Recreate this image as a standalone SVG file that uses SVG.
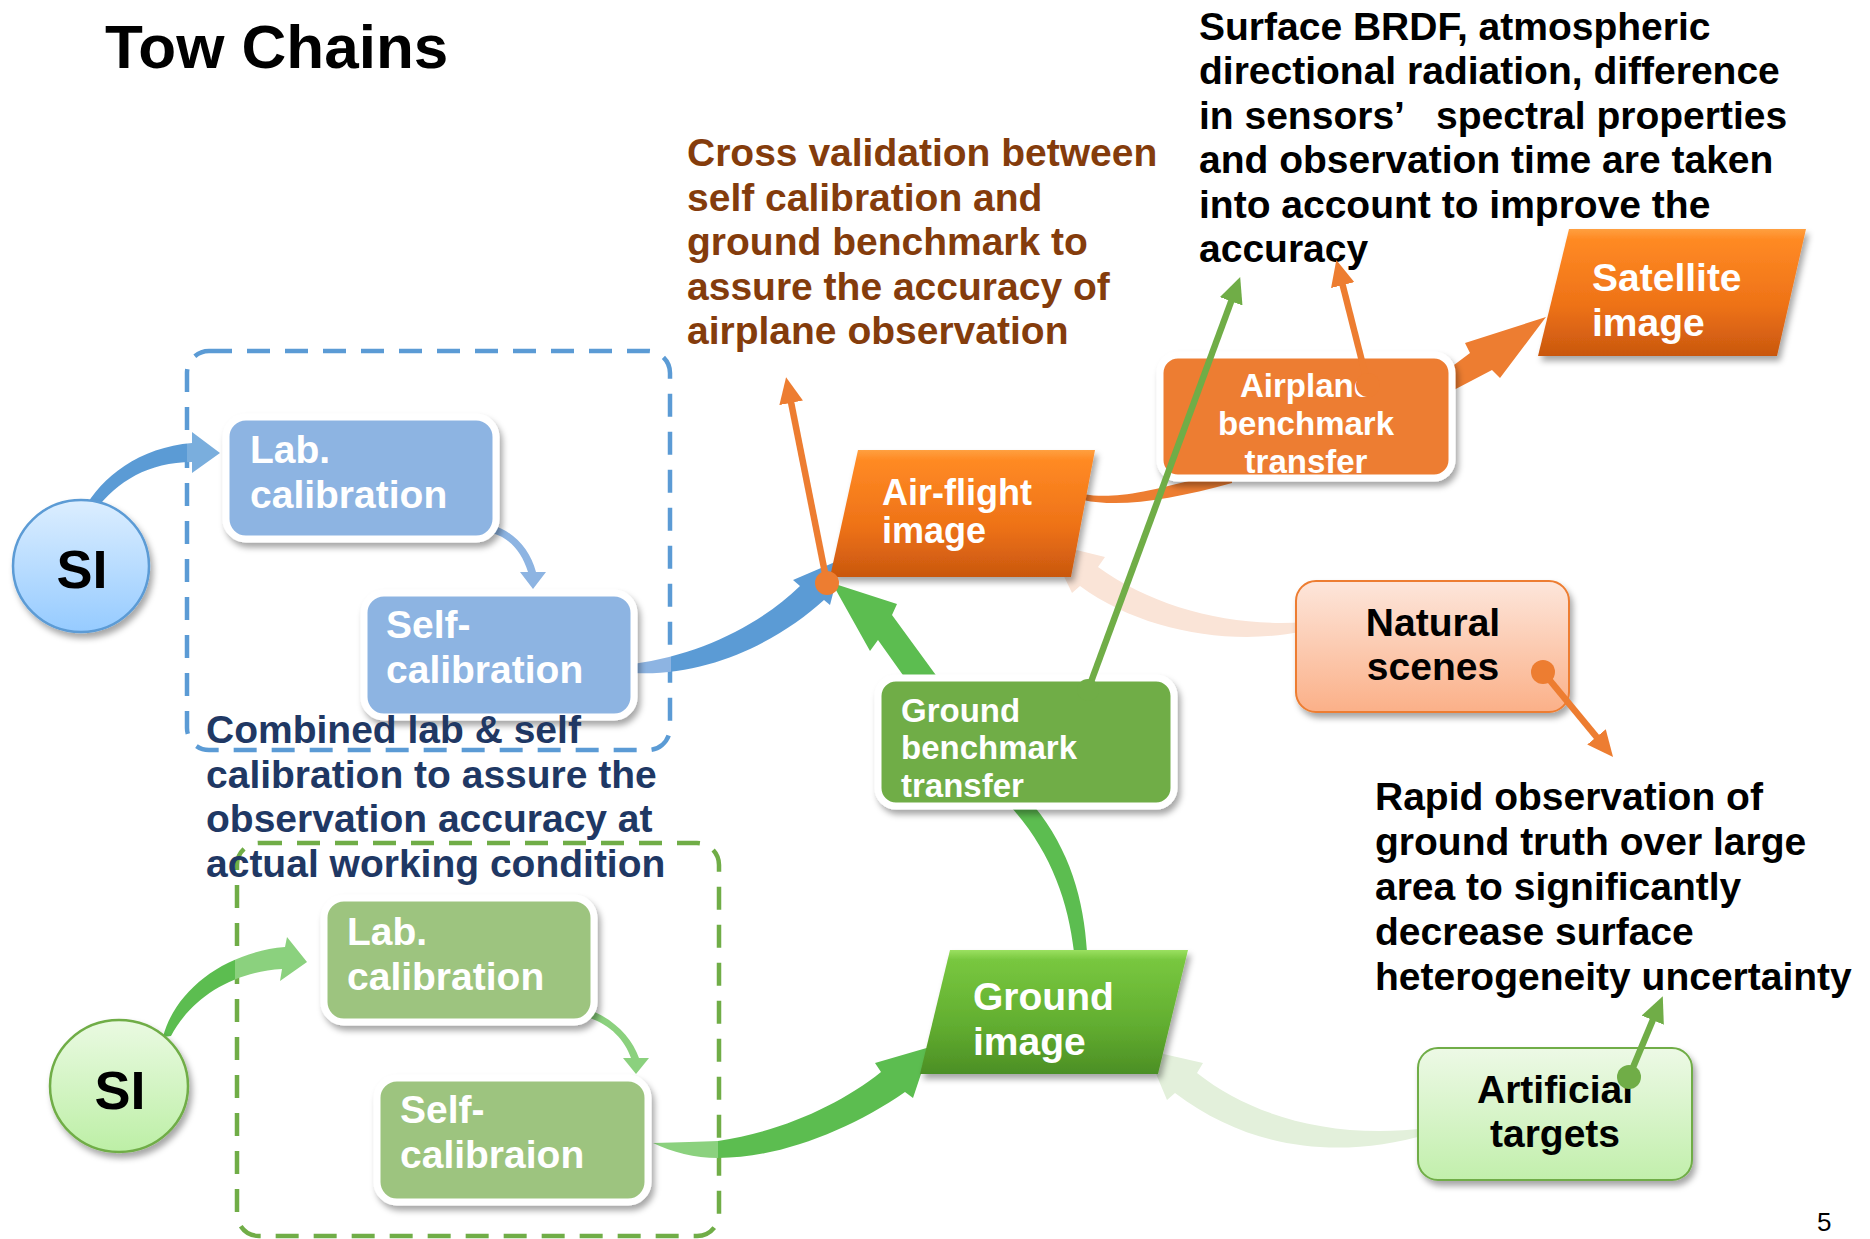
<svg xmlns="http://www.w3.org/2000/svg" width="1870" height="1239" viewBox="0 0 1870 1239">
<defs>
<style>
text{font-family:"Liberation Sans",Arial,sans-serif;font-weight:bold}
.big{font-size:39px}
.wt{fill:#ffffff}
.bk{fill:#000000}
.box{stroke:#ffffff;stroke-width:7}
.dash{fill:none;stroke-width:4.5;stroke-dasharray:23 15}
</style>
<filter id="sh" x="-20%" y="-20%" width="140%" height="150%">
<feDropShadow dx="3" dy="5" stdDeviation="3" flood-color="#000" flood-opacity="0.35"/>
</filter>
<linearGradient id="gOr" x1="0" y1="0" x2="0" y2="1">
<stop offset="0" stop-color="#FFA040"/>
<stop offset="0.08" stop-color="#FF8A24"/>
<stop offset="0.6" stop-color="#EE7217"/>
<stop offset="1" stop-color="#C9570F"/>
</linearGradient>
<linearGradient id="gGr" x1="0" y1="0" x2="0" y2="1">
<stop offset="0" stop-color="#9BE060"/>
<stop offset="0.08" stop-color="#78C73F"/>
<stop offset="0.6" stop-color="#62AE30"/>
<stop offset="1" stop-color="#4C8F25"/>
</linearGradient>
<linearGradient id="gSIb" x1="0" y1="0" x2="0" y2="1">
<stop offset="0" stop-color="#DCEEFF"/>
<stop offset="1" stop-color="#96CBFF"/>
</linearGradient>
<linearGradient id="gSIg" x1="0" y1="0" x2="0" y2="1">
<stop offset="0" stop-color="#EAFAE2"/>
<stop offset="1" stop-color="#BDEFA6"/>
</linearGradient>
<linearGradient id="gNat" x1="0" y1="0" x2="0" y2="1">
<stop offset="0" stop-color="#FDE6DB"/>
<stop offset="1" stop-color="#FBB088"/>
</linearGradient>
<linearGradient id="gArt" x1="0" y1="0" x2="0" y2="1">
<stop offset="0" stop-color="#EDF9E6"/>
<stop offset="1" stop-color="#C2EFAC"/>
</linearGradient>
<linearGradient id="gBlueArr" gradientUnits="userSpaceOnUse" x1="633" y1="0" x2="842" y2="0">
<stop offset="0.18" stop-color="#8DB4E2"/>
<stop offset="0.18" stop-color="#5B9BD5"/>
</linearGradient>
<linearGradient id="gGreenArr" gradientUnits="userSpaceOnUse" x1="653" y1="0" x2="930" y2="0">
<stop offset="0.235" stop-color="#8BD17E"/>
<stop offset="0.235" stop-color="#5CBD50"/>
</linearGradient>
<linearGradient id="gSIgArr" gradientUnits="userSpaceOnUse" x1="163" y1="0" x2="307" y2="0">
<stop offset="0.5" stop-color="#5CBD50"/>
<stop offset="0.5" stop-color="#8BD17E"/>
</linearGradient>
<linearGradient id="gSIbArr" gradientUnits="userSpaceOnUse" x1="77" y1="0" x2="220" y2="0">
<stop offset="0.77" stop-color="#5B9BD5"/>
<stop offset="0.77" stop-color="#7AAEDD"/>
</linearGradient>
<marker id="ahO" viewBox="0 -12 26 24" refX="11" refY="0" markerWidth="26" markerHeight="24" markerUnits="userSpaceOnUse" orient="auto">
<path d="M0,-12 L26,0 L0,12 Z" fill="#ED7D31"/>
</marker>
<marker id="ahG" viewBox="0 -12 26 24" refX="11" refY="0" markerWidth="26" markerHeight="24" markerUnits="userSpaceOnUse" orient="auto">
<path d="M0,-12 L26,0 L0,12 Z" fill="#70AD47"/>
</marker>
</defs>

<rect x="0" y="0" width="1870" height="1239" fill="#ffffff"/>

<g id="title"><text x="105" y="68" style="font-size:62px" class="bk">Tow Chains</text></g>

<g id="note-cross">
<text x="687" y="166" fill="#843C0C" class="big">Cross validation between</text>
<text x="687" y="210.5" fill="#843C0C" class="big">self calibration and</text>
<text x="687" y="255" fill="#843C0C" class="big">ground benchmark to</text>
<text x="687" y="299.5" fill="#843C0C" class="big">assure the accuracy of</text>
<text x="687" y="344" fill="#843C0C" class="big">airplane observation</text>
</g>

<g id="note-brdf">
<text x="1199" y="40" class="big bk">Surface BRDF, atmospheric</text>
<text x="1199" y="84" class="big bk">directional radiation, difference</text>
<text x="1199" y="129" class="big bk">in sensors’<tspan x="1436">spectral properties</tspan></text>
<text x="1199" y="173" class="big bk">and observation time are taken</text>
<text x="1199" y="218" class="big bk">into account to improve the</text>
<text x="1199" y="262" class="big bk">accuracy</text>
</g>

<g id="note-rapid">
<text x="1375" y="810" class="big bk">Rapid observation of</text>
<text x="1375" y="855" class="big bk">ground truth over large</text>
<text x="1375" y="900" class="big bk">area to significantly</text>
<text x="1375" y="945" class="big bk">decrease surface</text>
<text x="1375" y="990" class="big bk">heterogeneity uncertainty</text>
</g>

<g id="page-number"><text x="1817" y="1231" style="font-size:26px;font-weight:normal" class="bk">5</text></g>

<g id="blue-group"><rect x="187" y="351" width="483" height="399" rx="22" class="dash" stroke="#5B9BD5"/></g>
<g id="green-group"><rect x="237" y="843" width="482" height="393" rx="22" class="dash" stroke="#70AD47"/></g>

<g id="connectors">
<path d="M77,530 C85,490 130,448 192,443 L192,432 L220,453 L192,473 L192,462 C140,462 105,490 84,528 Z" fill="url(#gSIbArr)"/>
<path d="M163,1037 C175,990 225,952 285,947 L287,937 L307,962 L280,981 L282,969 C230,972 190,1000 171,1036 Z" fill="url(#gSIgArr)"/>
<path d="M492,525 C515,532 530,550 536,572 L546,572 L533,589 L520,572 L528,572 C522,552 510,538 492,533 Z" fill="#8DB4E2"/>
<path d="M590,1010 C615,1020 632,1038 639,1058 L649,1058 L636,1074 L623,1058 L631,1058 C625,1040 610,1025 590,1018 Z" fill="#8BD17E"/>
<path d="M633,664 C700,655 760,625 800,586 L793,580 L842,559 L830,605 L824,600 C780,640 710,677 633,673 Z" fill="url(#gBlueArr)"/>
<path d="M653,1143 C680,1142 700,1142 718,1141 C780,1132 840,1105 881,1072 L875,1063 L930,1047 L913,1098 L905,1092 C850,1130 780,1158 718,1158 C695,1158 672,1152 653,1143 Z" fill="url(#gGreenArr)"/>
<path d="M905,678 L878,640 L870,651 L832,583 L897,604 L892,615 L938,678 Z" fill="#5CBD50"/>
<path d="M1074,952 C1068,900 1050,850 1010,806 L1034,806 C1070,850 1084,900 1087,952 Z" fill="#5CBD50"/>
<path d="M1083,494 C1110,499 1140,494 1200,478 L1232,470 L1232,483 C1170,500 1120,508 1083,500 Z" fill="#ED7D31"/>
<path d="M1450,368 L1470,353 L1465,343 L1546,317 L1500,378 L1492,370 L1450,392 Z" fill="#ED7D31"/>
<path d="M1330,619 C1250,632 1160,612 1098,567 L1105,557 L1048,543 L1072,593 L1080,586 C1150,638 1260,650 1330,623 Z" fill="#FAE4D7"/>
<path d="M1428,1128 C1330,1140 1250,1115 1197,1073 L1203,1063 L1146,1050 L1167,1100 L1175,1093 C1250,1150 1340,1160 1428,1134 Z" fill="#E3F0DB"/>
</g>

<g id="si-blue">
<ellipse cx="81" cy="566" rx="68" ry="66" fill="url(#gSIb)" stroke="#5B9BD5" stroke-width="2.5" filter="url(#sh)"/>
<text x="82" y="588" text-anchor="middle" style="font-size:54px" class="bk">SI</text>
</g>
<g id="lab-blue">
<rect x="226" y="417" width="270" height="122" rx="20" fill="#8DB4E2" class="box" filter="url(#sh)"/>
<text x="250" y="463" class="big wt">Lab.</text>
<text x="250" y="508" class="big wt">calibration</text>
</g>
<g id="self-blue">
<rect x="364" y="593" width="270" height="124" rx="20" fill="#8DB4E2" class="box" filter="url(#sh)"/>
<text x="386" y="638" class="big wt">Self-</text>
<text x="386" y="683" class="big wt">calibration</text>
</g>

<g id="si-green">
<ellipse cx="119" cy="1086" rx="69" ry="66" fill="url(#gSIg)" stroke="#70AD47" stroke-width="2.5" filter="url(#sh)"/>
<text x="120" y="1109" text-anchor="middle" style="font-size:54px" class="bk">SI</text>
</g>
<g id="lab-green">
<rect x="324" y="898" width="270" height="124" rx="20" fill="#9DC47F" class="box" filter="url(#sh)"/>
<text x="347" y="945" class="big wt">Lab.</text>
<text x="347" y="990" class="big wt">calibration</text>
</g>
<g id="self-green">
<rect x="377" y="1078" width="271" height="124" rx="20" fill="#9DC47F" class="box" filter="url(#sh)"/>
<text x="400" y="1123" class="big wt">Self-</text>
<text x="400" y="1168" class="big wt">calibraion</text>
</g>

<g id="combined-note">
<text x="206" y="743" class="big" fill="#1F3864">Combined lab &amp; self</text>
<text x="206" y="788" class="big" fill="#1F3864">calibration to assure the</text>
<text x="206" y="832" class="big" fill="#1F3864">observation accuracy at</text>
<text x="206" y="877" class="big" fill="#1F3864">actual working condition</text>
</g>

<g id="air-flight-image">
<polygon points="858,450 1095,450 1071,577 830,577" fill="url(#gOr)" filter="url(#sh)"/>
<text x="882" y="505" style="font-size:36px" class="wt">Air-flight</text>
<text x="882" y="543" style="font-size:36px" class="wt">image</text>
</g>
<g id="satellite-image">
<polygon points="1569,229 1806,229 1777,356 1538,356" fill="url(#gOr)" filter="url(#sh)"/>
<text x="1592" y="291" class="big wt">Satellite</text>
<text x="1592" y="336" class="big wt">image</text>
</g>
<g id="ground-image">
<polygon points="950,950 1188,950 1158,1074 920,1074" fill="url(#gGr)" filter="url(#sh)"/>
<text x="973" y="1010" class="big wt">Ground</text>
<text x="973" y="1055" class="big wt">image</text>
</g>
<g id="airplane-benchmark">
<rect x="1160" y="355" width="292" height="123" rx="18" fill="#ED7D31" class="box" filter="url(#sh)"/>
<text x="1306" y="397" text-anchor="middle" style="font-size:33px" class="wt">Airplane</text>
<text x="1306" y="435" text-anchor="middle" style="font-size:33px" class="wt">benchmark</text>
<text x="1306" y="473" text-anchor="middle" style="font-size:33px" class="wt">transfer</text>
</g>
<g id="ground-benchmark">
<rect x="878" y="678" width="296" height="128" rx="18" fill="#70AD47" class="box" filter="url(#sh)"/>
<text x="901" y="722" style="font-size:33px" class="wt">Ground</text>
<text x="901" y="759" style="font-size:33px" class="wt">benchmark</text>
<text x="901" y="797" style="font-size:33px" class="wt">transfer</text>
</g>
<g id="natural-scenes">
<rect x="1296" y="581" width="273" height="131" rx="20" fill="url(#gNat)" stroke="#ED7D31" stroke-width="2" filter="url(#sh)"/>
<text x="1433" y="636" text-anchor="middle" class="big bk">Natural</text>
<text x="1433" y="680" text-anchor="middle" class="big bk">scenes</text>
</g>
<g id="artificial-targets">
<rect x="1418" y="1048" width="274" height="132" rx="20" fill="url(#gArt)" stroke="#70AD47" stroke-width="2" filter="url(#sh)"/>
<text x="1555" y="1103" text-anchor="middle" class="big bk">Artificial</text>
<text x="1555" y="1147" text-anchor="middle" class="big bk">targets</text>
</g>

<g id="callout-connectors" stroke-width="6.5" fill="none">
<line x1="827" y1="583" x2="789" y2="392" stroke="#ED7D31" marker-end="url(#ahO)"/>
<circle cx="827" cy="583" r="12" fill="#ED7D31" stroke="none"/>
<line x1="1088" y1="690" x2="1235" y2="291" stroke="#70AD47" marker-end="url(#ahG)"/>
<circle cx="1088" cy="690" r="11" fill="#70AD47" stroke="none"/>
<line x1="1368" y1="385" x2="1340" y2="274.5" stroke="#ED7D31" marker-end="url(#ahO)"/>
<circle cx="1368" cy="385" r="12" fill="#ED7D31" stroke="none"/>
<line x1="1543" y1="672" x2="1603.5" y2="745.4" stroke="#ED7D31" marker-end="url(#ahO)"/>
<circle cx="1543" cy="672" r="12" fill="#ED7D31" stroke="none"/>
<line x1="1629" y1="1077" x2="1657" y2="1010" stroke="#70AD47" marker-end="url(#ahG)"/>
<circle cx="1629" cy="1077" r="12" fill="#70AD47" stroke="none"/>
</g>
</svg>
